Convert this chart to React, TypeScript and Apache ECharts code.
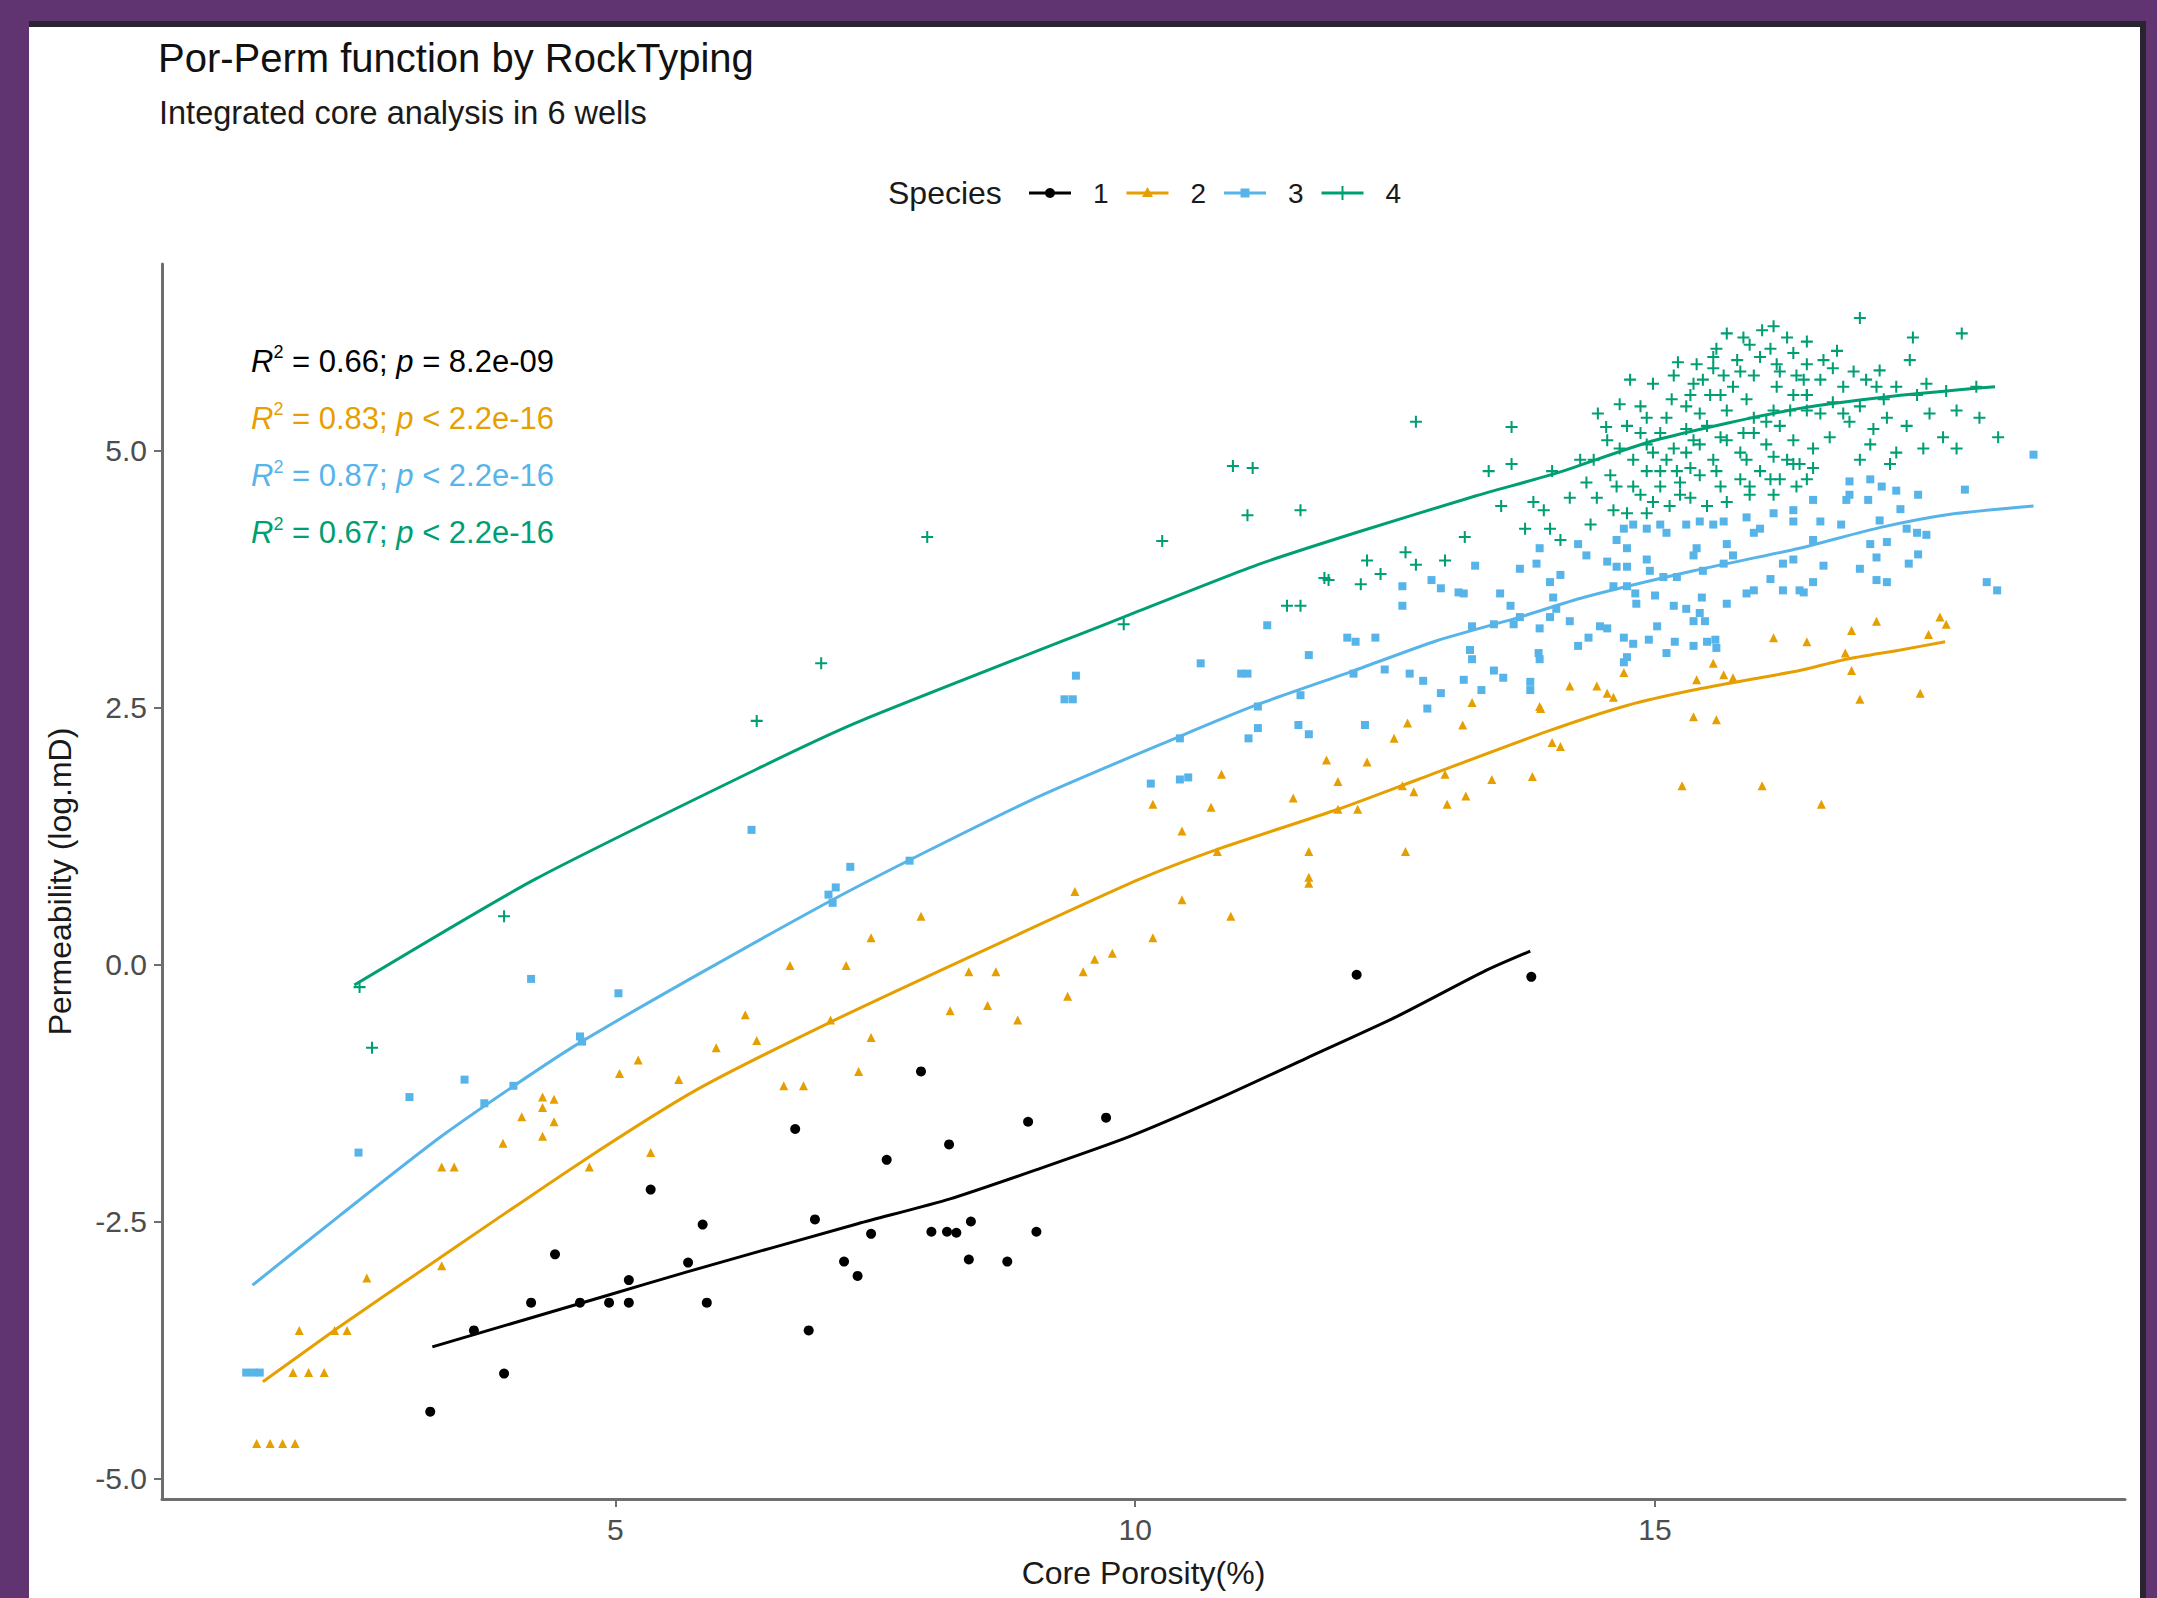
import React, { useEffect, useRef } from "react";
import * as echarts from "echarts";

const FONT = "'Liberation Sans', Arial, Helvetica, sans-serif";

// ---------- data ----------
const speciesNames = ["1", "2", "3", "4"];
const speciesColors = ["#000000", "#E69F00", "#56B4E9", "#009E73"];
const PLUS = "path://M0,4.15H10V5.85H0Z M4.15,0H5.85V10H4.15Z";
const speciesSymbols = ["circle", "triangle", "rect", PLUS];
const speciesSizes = [10, 9, 8, 12];

const xTicks = [5, 10, 15];
const yTicks = [-5, -2.5, 0, 2.5, 5];

const r2Values = ["0.66", "0.83", "0.87", "0.67"];
const pValues = ["= 8.2e-09", "< 2.2e-16", "< 2.2e-16", "< 2.2e-16"];

const species1 = [
  [3.22, -4.35], [3.93, -3.98], [3.64, -3.56], [4.19, -3.29], [4.66, -3.29], [4.94, -3.29],
  [5.13, -3.29], [5.13, -3.07], [5.70, -2.90], [4.42, -2.82], [5.88, -3.29], [5.84, -2.53],
  [5.34, -2.19], [6.73, -1.60], [6.92, -2.48], [7.20, -2.89], [7.33, -3.03], [6.86, -3.56],
  [7.94, -1.04], [8.21, -1.75], [7.61, -1.90], [8.97, -1.53], [9.72, -1.49], [7.46, -2.62],
  [8.04, -2.60], [8.19, -2.60], [8.28, -2.61], [8.42, -2.50], [9.05, -2.60], [8.40, -2.87],
  [8.77, -2.89], [12.13, -0.10], [13.81, -0.12],
];

const species2 = [
  [1.55, -4.66], [1.68, -4.66], [1.80, -4.66], [1.92, -4.66],
  [1.90, -3.97], [2.05, -3.97], [2.20, -3.97],
  [1.96, -3.56], [2.30, -3.56], [2.42, -3.56],
  [2.61, -3.05], [3.33, -2.93], [3.33, -1.97], [3.45, -1.97],
  [3.92, -1.74], [4.10, -1.48], [4.30, -1.67], [4.30, -1.39], [4.41, -1.31], [4.30, -1.29], [4.41, -1.53],
  [4.75, -1.97], [5.34, -1.83], [5.04, -1.06], [5.22, -0.93], [5.61, -1.12], [5.97, -0.81],
  [6.25, -0.49], [6.36, -0.74], [6.62, -1.18], [6.81, -1.18], [6.68, -0.01], [7.22, -0.01],
  [7.07, -0.54], [7.34, -1.04],
  [9.42, 0.71], [10.45, 0.63], [11.67, 0.79], [10.92, 0.47], [7.94, 0.47], [7.46, 0.26],
  [10.17, 0.26], [9.78, 0.11], [9.61, 0.05], [9.50, -0.07], [8.40, -0.07], [8.66, -0.07],
  [9.35, -0.31], [8.22, -0.45], [8.58, -0.40], [8.87, -0.54], [7.46, -0.71],
  [12.62, 2.35], [12.49, 2.20], [13.15, 2.33], [13.24, 2.55], [13.90, 2.49], [14.01, 2.16],
  [11.84, 1.99], [12.23, 1.97], [11.95, 1.78], [12.98, 1.85], [13.43, 1.80], [13.82, 1.83],
  [13.00, 1.56], [13.18, 1.64], [12.68, 1.68], [12.57, 1.74], [12.14, 1.51], [11.95, 1.51],
  [11.52, 1.62], [10.83, 1.85], [10.17, 1.56], [10.73, 1.53], [10.45, 1.30], [11.67, 1.10],
  [12.60, 1.10], [11.67, 0.85], [10.79, 1.10],
  [14.70, 2.84], [14.60, 2.60], [14.54, 2.64], [14.44, 2.71], [14.18, 2.71], [13.89, 2.51],
  [14.09, 2.12], [15.40, 2.77], [15.56, 2.93], [15.66, 2.82], [15.75, 2.79], [15.37, 2.41],
  [15.59, 2.38], [15.26, 1.74], [16.03, 1.74], [16.14, 3.18], [16.46, 3.14],
  [17.13, 3.34], [16.89, 3.25], [17.63, 3.21], [17.74, 3.38], [17.80, 3.31], [16.83, 3.03],
  [16.89, 2.86], [16.97, 2.58], [17.55, 2.64], [16.60, 1.56],
];

const species3 = [
  [1.45, -3.97], [1.52, -3.97], [1.58, -3.97], [2.53, -1.83], [3.02, -1.29], [3.55, -1.12],
  [3.74, -1.35], [4.02, -1.18], [4.66, -0.70], [4.68, -0.75], [5.03, -0.28], [4.19, -0.14],
  [7.09, 0.60], [7.12, 0.75], [7.05, 0.68], [6.31, 1.31], [7.26, 0.95],
  [9.43, 2.81], [9.32, 2.58], [9.40, 2.58], [10.63, 2.93], [11.02, 2.83], [11.08, 2.83],
  [11.27, 3.30], [11.67, 3.01], [12.04, 3.18], [12.12, 3.14], [12.31, 3.18], [12.10, 2.83],
  [12.40, 2.87], [11.59, 2.62], [11.18, 2.51], [11.18, 2.30], [11.09, 2.20], [11.57, 2.33],
  [11.67, 2.24], [12.21, 2.33], [10.43, 2.20], [10.51, 1.82], [10.43, 1.80], [10.15, 1.76],
  [7.83, 1.01], [12.57, 3.68], [12.57, 3.49], [12.85, 3.74], [12.94, 3.66], [13.11, 3.62],
  [12.64, 2.83], [12.77, 2.76], [12.94, 2.64], [12.81, 2.49],
  [13.27, 3.88], [13.70, 3.85], [13.89, 4.05], [13.99, 3.72], [13.16, 3.61], [13.51, 3.61],
  [13.61, 3.49], [14.02, 3.57], [14.05, 3.46], [13.99, 3.38], [13.70, 3.38], [13.64, 3.31],
  [13.45, 3.31], [13.24, 3.29], [13.89, 3.27], [13.22, 3.06], [13.24, 2.97], [13.88, 3.03],
  [13.89, 2.97], [13.45, 2.86], [13.54, 2.79], [13.16, 2.77], [13.33, 2.67], [13.80, 2.75],
  [13.80, 2.67], [13.86, 3.90],
  [14.26, 4.09], [14.34, 3.98], [14.09, 3.79], [14.18, 3.34], [14.26, 3.10], [14.36, 3.18],
  [14.47, 3.29], [14.54, 3.27], [14.70, 3.18], [14.79, 3.12], [14.94, 3.16], [14.73, 2.99],
  [14.70, 2.94], [15.02, 3.29], [15.11, 3.03], [15.19, 3.14], [15.37, 3.10], [15.50, 3.14],
  [15.58, 3.16], [15.59, 3.08], [15.18, 3.49], [15.30, 3.46], [15.43, 3.42], [15.45, 3.57],
  [15.48, 3.34], [15.37, 3.34], [15.00, 3.59], [14.81, 3.61], [14.82, 3.51], [14.73, 3.68],
  [14.60, 3.68], [14.54, 3.92], [14.63, 3.87], [14.73, 3.87], [14.92, 3.94], [14.95, 3.83],
  [15.08, 3.77], [15.21, 3.77], [14.70, 4.24], [14.79, 4.28], [14.92, 4.24], [15.05, 4.28],
  [15.11, 4.20], [14.73, 4.05], [14.63, 4.13], [15.30, 4.28], [15.43, 4.31], [15.56, 4.28],
  [15.66, 4.31], [15.40, 4.05], [15.37, 3.98], [15.69, 4.09], [15.75, 3.98], [15.66, 3.90],
  [15.46, 3.83], [15.69, 3.51], [15.88, 3.61], [15.95, 3.64], [15.88, 4.35], [16.01, 4.24],
  [15.95, 4.20], [16.14, 4.39], [16.33, 4.42], [16.33, 4.31], [16.23, 3.90], [16.33, 3.94],
  [16.11, 3.75], [16.23, 3.64], [16.39, 3.64],
  [18.64, 4.96], [16.52, 4.52], [16.84, 4.52], [16.87, 4.57], [17.05, 4.52], [16.87, 4.70],
  [17.07, 4.72], [17.18, 4.65], [17.32, 4.61], [17.53, 4.57], [17.98, 4.62], [17.36, 4.43],
  [16.59, 4.31], [16.79, 4.28], [17.16, 4.32], [16.52, 4.13], [17.42, 4.24], [17.52, 4.20],
  [17.61, 4.18], [17.07, 4.09], [17.23, 4.11], [17.13, 3.96], [17.44, 3.90], [17.53, 3.99],
  [16.62, 3.88], [16.97, 3.85], [17.13, 3.74], [17.23, 3.72], [16.52, 3.72], [16.43, 3.62],
  [18.19, 3.72], [18.29, 3.64],
];

const species4 = [
  [2.54, -0.22], [2.66, -0.81], [3.93, 0.47], [6.98, 2.93], [6.36, 2.37],
  [8.00, 4.16], [10.26, 4.12], [10.94, 4.85], [11.13, 4.83], [11.08, 4.37], [11.59, 4.42],
  [12.70, 5.28], [11.82, 3.76], [11.86, 3.74], [12.23, 3.93], [12.17, 3.70], [12.36, 3.80],
  [12.60, 4.01], [12.70, 3.89], [12.98, 3.93], [9.89, 3.31], [11.46, 3.49], [11.59, 3.49],
  [13.62, 5.23], [13.62, 4.87], [13.40, 4.80], [13.52, 4.46], [13.17, 4.16], [13.75, 4.24],
  [13.99, 4.24], [14.09, 4.13], [13.83, 4.50], [14.01, 4.80], [14.18, 4.54], [14.28, 4.91],
  [14.34, 4.69], [14.44, 4.54], [14.38, 4.28], [14.45, 5.36], [14.53, 5.23], [14.66, 5.45],
  [14.86, 5.43], [14.76, 5.69], [14.98, 5.65], [15.16, 5.50], [15.22, 5.86], [15.37, 5.65],
  [15.40, 5.84], [15.59, 5.99], [15.66, 5.73], [15.79, 5.88], [15.91, 6.03], [16.03, 6.17],
  [16.11, 5.99], [16.20, 5.77], [16.33, 5.95], [16.43, 5.69], [15.88, 5.50], [15.69, 5.39],
  [15.50, 5.24], [15.30, 5.21], [15.05, 5.17], [14.86, 5.17], [14.66, 5.02], [14.79, 4.91],
  [14.92, 4.80], [15.11, 4.91], [15.30, 4.98], [15.43, 5.06], [15.56, 4.91], [15.69, 5.10],
  [15.82, 4.98], [15.95, 5.17], [16.07, 5.06], [16.20, 5.24], [16.33, 5.10], [16.46, 5.39],
  [16.14, 5.39], [16.01, 4.80], [16.20, 4.72], [16.36, 4.65], [15.82, 4.72], [15.63, 4.65],
  [15.43, 4.76], [15.24, 4.69], [15.05, 4.65], [14.86, 4.57], [14.63, 4.65], [14.73, 4.39],
  [14.92, 4.39], [15.14, 4.46], [15.34, 4.54], [15.50, 4.46], [15.69, 4.50], [15.91, 4.57],
  [16.14, 4.57], [13.93, 4.42], [14.57, 4.76],
  [15.53, 5.54], [15.75, 5.62], [15.95, 5.73], [16.17, 5.62], [16.33, 5.54], [16.46, 5.84],
  [16.27, 6.10], [16.14, 6.21], [15.85, 6.10], [15.56, 5.80], [15.30, 5.43], [15.11, 5.32],
  [14.92, 5.32], [14.73, 5.24], [14.54, 5.10], [14.41, 4.91], [15.43, 5.36], [15.95, 5.32],
  [16.27, 4.91], [16.39, 4.87], [15.59, 4.80], [15.21, 4.80],
  [15.18, 5.73], [15.34, 5.54], [15.46, 5.69], [15.63, 5.54], [15.82, 5.77], [16.01, 5.91],
  [16.17, 5.84], [16.36, 5.73], [16.46, 5.54], [16.30, 5.39], [16.07, 5.28], [15.85, 5.17],
  [15.63, 5.13], [15.37, 5.10], [15.18, 5.02], [14.98, 4.98], [14.92, 5.06], [15.05, 4.80],
  [15.34, 4.83], [15.88, 4.91], [16.14, 4.94], [16.33, 4.87], [16.11, 4.72], [15.91, 4.65],
  [15.24, 4.57], [14.98, 4.50], [14.79, 4.65], [14.60, 4.42], [15.69, 6.14], [15.56, 5.91],
  [16.97, 6.29], [17.48, 6.10], [17.95, 6.14], [17.45, 5.88], [16.75, 5.97], [16.46, 6.06],
  [16.62, 5.88], [17.16, 5.78], [17.03, 5.69], [16.81, 5.62], [16.59, 5.69], [16.46, 5.54],
  [16.71, 5.47], [16.97, 5.43], [17.20, 5.50], [17.52, 5.54], [17.80, 5.58], [18.09, 5.62],
  [17.90, 5.39], [18.12, 5.32], [18.30, 5.13], [17.77, 5.13], [17.90, 5.02], [17.58, 5.02],
  [17.42, 5.24], [17.10, 5.21], [16.87, 5.28], [16.68, 5.13], [16.52, 5.02], [17.07, 5.06],
  [17.32, 4.98], [16.97, 4.91], [17.26, 4.87], [16.52, 4.83], [16.46, 4.72],
  [16.71, 5.80], [16.91, 5.77], [17.13, 5.62], [17.32, 5.62], [17.61, 5.65], [16.59, 5.36],
  [16.81, 5.36], [17.23, 5.32], [17.64, 5.36],
];

// fitted (smooth) curves
const fit1 = [
  [3.24, -3.72], [4.92, -3.22], [5.69, -2.99], [7.34, -2.52], [8.22, -2.28], [9.07, -1.99],
  [9.93, -1.68], [10.79, -1.31], [11.65, -0.91], [12.51, -0.51], [13.37, -0.06], [13.80, 0.13],
];
const fit2 = [
  [1.61, -4.06], [2.34, -3.53], [3.29, -2.87], [4.66, -1.93], [5.78, -1.22], [7.07, -0.56],
  [8.55, 0.14], [10.02, 0.82], [10.79, 1.12], [11.95, 1.51], [12.72, 1.80], [13.97, 2.27],
  [14.73, 2.52], [15.37, 2.67], [16.01, 2.79], [16.39, 2.86], [16.84, 2.97], [17.36, 3.06],
  [17.79, 3.14],
];
const fit3 = [
  [1.51, -3.12], [2.34, -2.45], [3.37, -1.64], [4.66, -0.76], [7.09, 0.63], [9.00, 1.60],
  [10.43, 2.22], [11.18, 2.53], [12.08, 2.85], [12.90, 3.15], [13.70, 3.38], [14.31, 3.57],
  [15.37, 3.83], [16.39, 4.05], [17.16, 4.25], [17.84, 4.38], [18.64, 4.46],
];
const fit4 = [
  [2.49, -0.20], [4.23, 0.83], [6.42, 1.93], [7.36, 2.37], [9.89, 3.38], [11.18, 3.89],
  [12.12, 4.20], [13.28, 4.56], [14.05, 4.78], [15.00, 5.10], [16.28, 5.39], [17.30, 5.53],
  [18.27, 5.62],
];

const pointSets = [species1, species2, species3, species4];
const fitSets = [fit1, fit2, fit3, fit4];

function legendGraphics() {
  const items: any[] = [];
  const y = 193;
  items.push({
    type: "text",
    x: 888,
    y,
    style: { text: "Species", fontSize: 32, fontFamily: FONT, fill: "#1a1a1a", verticalAlign: "middle" },
  });
  const startX = 1050;
  const step = 97.5;
  speciesNames.forEach((n, i) => {
    const cx = startX + i * step;
    const c = speciesColors[i];
    items.push({ type: "line", shape: { x1: cx - 21, y1: y, x2: cx + 21, y2: y }, style: { stroke: c, lineWidth: 3 } });
    if (i === 0) items.push({ type: "circle", shape: { cx, cy: y, r: 5 }, style: { fill: c } });
    if (i === 1)
      items.push({ type: "polygon", shape: { points: [[cx, y - 6], [cx + 5.5, y + 4], [cx - 5.5, y + 4]] }, style: { fill: c } });
    if (i === 2) items.push({ type: "rect", shape: { x: cx - 4.5, y: y - 4.5, width: 9, height: 9 }, style: { fill: c } });
    if (i === 3) {
      items.push({ type: "rect", shape: { x: cx - 7, y: y - 1, width: 14, height: 2 }, style: { fill: c } });
      items.push({ type: "rect", shape: { x: cx - 1, y: y - 7, width: 2, height: 14 }, style: { fill: c } });
    }
    items.push({
      type: "text",
      x: cx + 43,
      y,
      style: { text: n, fontSize: 28, fontFamily: FONT, fill: "#1a1a1a", verticalAlign: "middle" },
    });
  });
  return items;
}

function statGraphics() {
  return r2Values.map((r2, i) => {
    const c = speciesColors[i];
    const base = { fontSize: 31, fontFamily: FONT, fill: c, lineHeight: 36 };
    return {
      type: "text",
      x: 251,
      y: 361 + i * 57.3,
      style: {
        text: `{i|R}{s|2}{n| = ${r2}; }{i|p}{n| ${pValues[i]}}`,
        verticalAlign: "middle",
        fill: c,
        fontFamily: FONT,
        rich: {
          i: { ...base, fontStyle: "italic" },
          n: { ...base },
          s: { fontSize: 18, fontFamily: FONT, fill: c, lineHeight: 18, verticalAlign: "top" },
        },
      },
    };
  });
}

export default function App() {
  const ref = useRef<HTMLDivElement>(null);
  useEffect(() => {
    if (!ref.current) return;
    const chart = echarts.init(ref.current, undefined, { renderer: "svg" });
    const axisColor = "#6e6e6e";
    const scatterSeries = pointSets.map((pts, i) => ({
      type: "scatter",
      name: speciesNames[i],
      data: pts,
      symbol: speciesSymbols[i],
      symbolSize: speciesSizes[i],
      itemStyle: { color: speciesColors[i], opacity: 1 },
      z: 2,
      silent: true,
    }));
    const lineSeries = fitSets.map((pts, i) => ({
      type: "line",
      name: "fit " + speciesNames[i],
      data: pts,
      smooth: 0.22,
      showSymbol: false,
      symbol: "none",
      lineStyle: { color: speciesColors[i], width: 3 },
      z: 3,
      silent: true,
    }));
    chart.setOption({
      animation: false,
      textStyle: { fontFamily: FONT },
      grid: { left: 162, top: 264, width: 1963, height: 1235, containLabel: false },
      xAxis: {
        type: "value",
        min: 0.64,
        max: 19.52,
        name: "Core Porosity(%)",
        nameLocation: "middle",
        nameGap: 58,
        nameTextStyle: { fontSize: 32, color: "#1a1a1a", fontFamily: FONT },
        axisLine: { show: true, onZero: false, lineStyle: { color: axisColor, width: 3 } },
        axisTick: { show: true, length: 8, lineStyle: { color: axisColor, width: 2 }, customValues: xTicks },
        axisLabel: { customValues: xTicks, fontSize: 30, color: "#4d4d4d", margin: 15, fontFamily: FONT },
        splitLine: { show: false },
      },
      yAxis: {
        type: "value",
        min: -5.2,
        max: 6.815,
        name: "Permeability (log.mD)",
        nameLocation: "middle",
        nameGap: 86,
        nameTextStyle: { fontSize: 32, color: "#1a1a1a", fontFamily: FONT },
        axisLine: { show: true, onZero: false, lineStyle: { color: axisColor, width: 3 } },
        axisTick: { show: true, length: 8, lineStyle: { color: axisColor, width: 2 }, customValues: yTicks },
        axisLabel: {
          customValues: yTicks,
          fontSize: 30,
          color: "#4d4d4d",
          margin: 15,
          fontFamily: FONT,
          formatter: (v: number) => v.toFixed(1),
        },
        splitLine: { show: false },
      },
      graphic: [
        {
          type: "text",
          x: 158,
          y: 58,
          style: {
            text: "Por-Perm function by RockTyping",
            fontSize: 40,
            fontFamily: FONT,
            fill: "#111111",
            verticalAlign: "middle",
          },
        },
        {
          type: "text",
          x: 159,
          y: 113,
          style: {
            text: "Integrated core analysis in 6 wells",
            fontSize: 32.5,
            fontFamily: FONT,
            fill: "#1a1a1a",
            verticalAlign: "middle",
          },
        },
        ...statGraphics(),
        ...legendGraphics(),
      ],
      series: [...scatterSeries, ...lineSeries],
    });
    return () => chart.dispose();
  }, []);

  return (
    <div style={{ position: "fixed", left: 0, top: 0, width: 2157, height: 1598, background: "#603371", overflow: "hidden" }}>
      <div style={{ position: "absolute", left: 29, top: 21, width: 2117, height: 1577, background: "#2a2430" }} />
      <div style={{ position: "absolute", left: 29, top: 27, width: 2111, height: 1571, background: "#ffffff" }} />
      <div ref={ref} style={{ position: "absolute", left: 0, top: 0, width: 2157, height: 1598 }} />
    </div>
  );
}
